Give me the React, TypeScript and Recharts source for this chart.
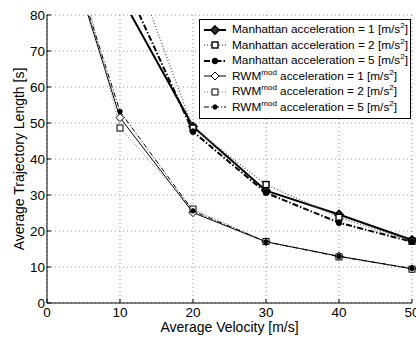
import React from 'react';
import { LineChart, Line, XAxis, YAxis, CartesianGrid, Legend, Label } from 'recharts';

const velocity = [5, 10, 20, 30, 40, 50];
const manhattanAcc1 = [null, 85.6, 49.0, 31.2, 24.6, 17.5];
const manhattanAcc2 = [null, 103.5, 48.6, 32.9, 23.8, 17.2];
const manhattanAcc5 = [null, 91.8, 47.6, 30.6, 22.3, 17.0];
const rwmAcc1 = [84, 51.5, 25.1, 17.0, 13.0, 9.5];
const rwmAcc2 = [88, 48.6, 26.1, 17.1, 12.8, 9.4];
const rwmAcc5 = [85, 53.2, 25.6, 17.0, 12.9, 9.6];

const xTicks = [0, 10, 20, 30, 40, 50];
const yTicks = [0, 10, 20, 30, 40, 50, 60, 70, 80];

const FONT = '"Liberation Sans", Arial, Helvetica, sans-serif';

const data = velocity.map((v, i) => ({
  v,
  m1: manhattanAcc1[i],
  m2: manhattanAcc2[i],
  m5: manhattanAcc5[i],
  r1: rwmAcc1[i],
  r2: rwmAcc2[i],
  r5: rwmAcc5[i],
}));

type Marker = 'diamond' | 'square' | 'circle';

interface SeriesStyle {
  key: string;
  group: 'Manhattan' | 'RWM';
  acc: number;
  width: number;
  color: string;
  dash?: string;
  marker: Marker;
  size: number;
  fill: string;
  markerWidth: number;
}

const series: SeriesStyle[] = [
  { key: 'm1', group: 'Manhattan', acc: 1, width: 2, color: '#000', marker: 'diamond', size: 4, fill: '#333', markerWidth: 1.6 },
  { key: 'm2', group: 'Manhattan', acc: 2, width: 1.4, color: '#666', dash: '1 2', marker: 'square', size: 3, fill: '#fff', markerWidth: 1.4 },
  { key: 'm5', group: 'Manhattan', acc: 5, width: 2, color: '#000', dash: '6 2 1.5 2', marker: 'circle', size: 2.8, fill: '#000', markerWidth: 1 },
  { key: 'r1', group: 'RWM', acc: 1, width: 1, color: '#000', marker: 'diamond', size: 4, fill: '#fff', markerWidth: 1 },
  { key: 'r2', group: 'RWM', acc: 2, width: 1, color: '#777', dash: '1 2', marker: 'square', size: 3, fill: '#fff', markerWidth: 1 },
  { key: 'r5', group: 'RWM', acc: 5, width: 1, color: '#000', dash: '5 2 1 2', marker: 'circle', size: 2.2, fill: '#000', markerWidth: 1 },
];

function markerShape(s: SeriesStyle, cx: number, cy: number, k?: any) {
  if (s.marker === 'diamond') {
    const r = s.size;
    return (
      <path key={k} d={`M${cx},${cy - r}L${cx + r},${cy}L${cx},${cy + r}L${cx - r},${cy}Z`}
        fill={s.fill} stroke="#000" strokeWidth={s.markerWidth} />
    );
  }
  if (s.marker === 'square') {
    const r = s.size;
    return <rect key={k} x={cx - r} y={cy - r} width={2 * r} height={2 * r} fill={s.fill} stroke="#000" strokeWidth={s.markerWidth} />;
  }
  return <circle key={k} cx={cx} cy={cy} r={s.size} fill={s.fill} stroke="#000" strokeWidth={s.markerWidth} />;
}

const makeDot = (s: SeriesStyle) => (props: any) => {
  const { cx, cy, index, value } = props;
  if (cx == null || cy == null || value == null) return <g key={`${s.key}-${index}`} />;
  return markerShape(s, cx, cy, `${s.key}-${index}`);
};

const BottomTick = (props: any) => {
  const { x, y, payload } = props;
  return (
    <g>
      <line x1={x} x2={x} y1={y} y2={y - 4} stroke="#000" />
      <text x={x} y={y + 13.5} textAnchor="middle" fontSize={13.5} fontFamily={FONT} fill="#000">
        {payload.value}
      </text>
    </g>
  );
};

const TopTick = (props: any) => {
  const { x, y } = props;
  return <line x1={x} x2={x} y1={y} y2={y + 4} stroke="#000" />;
};

const LeftTick = (props: any) => {
  const { x, y, payload } = props;
  return (
    <g>
      <line x1={x} x2={x + 4} y1={y} y2={y} stroke="#000" />
      <text x={x - 2} y={y + 5} textAnchor="end" fontSize={13.5} fontFamily={FONT} fill="#000">
        {payload.value}
      </text>
    </g>
  );
};

const RightTick = (props: any) => {
  const { x, y } = props;
  return <line x1={x} x2={x - 4} y1={y} y2={y} stroke="#000" />;
};

const YLabel = (props: any) => {
  const { viewBox } = props;
  const cx = viewBox.x + 12;
  const cy = viewBox.y + viewBox.height / 2;
  return (
    <text x={cx} y={cy} transform={`rotate(-90, ${cx}, ${cy})`} textAnchor="middle"
      dominantBaseline="central" fontSize={14} fontFamily={FONT} fill="#000">
      Average Trajectory Length [s]
    </text>
  );
};

const XLabel = (props: any) => {
  const { viewBox } = props;
  return (
    <text x={viewBox.x + viewBox.width / 2} y={viewBox.y + 24} textAnchor="middle"
      dominantBaseline="central" fontSize={14} fontFamily={FONT} fill="#000">
      Average Velocity [m/s]
    </text>
  );
};

const LegendBox = () => (
  <div
    style={{
      boxSizing: 'border-box',
      width: 212,
      border: '1px solid #000',
      background: '#fff',
      padding: '2px 4px 3px 3px',
      fontFamily: FONT,
      fontSize: 11.8,
      color: '#000',
      lineHeight: '15.5px',
    }}
  >
    {series.map((s) => (
      <div key={s.key} style={{ display: 'flex', alignItems: 'center', whiteSpace: 'nowrap' }}>
        <svg width={24} height={12} style={{ marginRight: 5, flex: 'none' }}>
          <line x1={1} x2={23} y1={6} y2={6} stroke={s.color} strokeWidth={s.width} strokeDasharray={s.dash} />
          {markerShape(s, 12, 6)}
        </svg>
        <span>
          {s.group}
          {s.group === 'RWM' && <sup style={{ fontSize: 8, lineHeight: 0 }}>mod</sup>}
          {` acceleration = ${s.acc} [m/s`}
          <sup style={{ fontSize: 8, lineHeight: 0 }}>2</sup>]
        </span>
      </div>
    ))}
  </div>
);

export default function App() {
  return (
    <div style={{ position: 'fixed', left: 0, top: 0, background: '#fff' }}>
      <LineChart width={416} height={338} data={data} margin={{ top: 15, right: 4, left: 7, bottom: 0 }}>
        <CartesianGrid stroke="#999" strokeDasharray="1 3" />
        <XAxis
          dataKey="v"
          type="number"
          domain={[0, 50]}
          ticks={xTicks}
          height={35}
          stroke="#000"
          tickLine={false}
          tickSize={0}
          tickMargin={0}
          tick={<BottomTick />}
          interval={0}
        >
          <Label content={<XLabel />} />
        </XAxis>
        <XAxis
          xAxisId="top"
          orientation="top"
          dataKey="v"
          type="number"
          domain={[0, 50]}
          ticks={xTicks}
          height={0}
          stroke="#000"
          tickLine={false}
          tickSize={0}
          tickMargin={0}
          tick={<TopTick />}
          interval={0}
        />
        <YAxis
          domain={[0, 80]}
          ticks={yTicks}
          allowDataOverflow
          width={40}
          stroke="#000"
          tickLine={false}
          tickSize={0}
          tickMargin={0}
          tick={<LeftTick />}
          interval={0}
        >
          <Label content={<YLabel />} />
        </YAxis>
        <YAxis
          yAxisId="right"
          orientation="right"
          domain={[0, 80]}
          ticks={yTicks}
          allowDataOverflow
          width={0}
          stroke="#000"
          tickLine={false}
          tickSize={0}
          tickMargin={0}
          tick={<RightTick />}
          interval={0}
        />
        {series.map((s) => (
          <Line
            key={s.key}
            dataKey={s.key}
            type="linear"
            stroke={s.color}
            strokeWidth={s.width}
            strokeDasharray={s.dash}
            dot={makeDot(s)}
            activeDot={false}
            connectNulls={false}
            isAnimationActive={false}
          />
        ))}
        <Legend
          content={<LegendBox />}
          layout="vertical"
          align="center"
          verticalAlign="middle"
          wrapperStyle={{ left: 199, top: 19, width: 212 }}
        />
      </LineChart>
    </div>
  );
}
